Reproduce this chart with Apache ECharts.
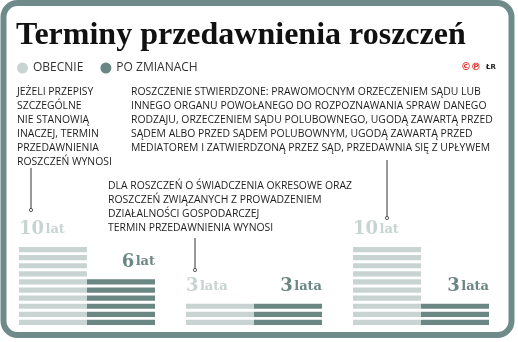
<!DOCTYPE html>
<html>
<head>
<meta charset="utf-8">
<script src="https://cdn.jsdelivr.net/npm/echarts@6/dist/echarts.min.js"></script>
<style>
  html, body { margin: 0; padding: 0; background: #fff; }
  #chart { width: 518px; height: 342px; }
</style>
</head>
<body>
<div id="chart"></div>
<script>
// dane
const categories = ['Termin ogólny', 'Świadczenia okresowe', 'Roszczenie stwierdzone'];
const obecnie = [10, 3, 10];
const poZmianach = [6, 3, 3];
const seriesNames = ['OBECNIE', 'PO ZMIANACH'];

const title = 'Terminy przedawnienia roszczeń';
const note1 = ['JEŻELI PRZEPISY', 'SZCZEGÓLNE', 'NIE STANOWIĄ', 'INACZEJ, TERMIN', 'PRZEDAWNIENIA', 'ROSZCZEŃ WYNOSI'];
const note2 = [
  'ROSZCZENIE STWIERDZONE: PRAWOMOCNYM ORZECZENIEM SĄDU LUB',
  'INNEGO ORGANU POWOŁANEGO DO ROZPOZNAWANIA SPRAW DANEGO',
  'RODZAJU, ORZECZENIEM SĄDU POLUBOWNEGO, UGODĄ ZAWARTĄ PRZED',
  'SĄDEM ALBO PRZED SĄDEM POLUBOWNYM, UGODĄ ZAWARTĄ PRZED',
  'MEDIATOREM I ZATWIERDZONĄ PRZEZ SĄD, PRZEDAWNIA SIĘ Z UPŁYWEM'
];
const note3 = [
  'DLA ROSZCZEŃ O ŚWIADCZENIA OKRESOWE ORAZ',
  'ROSZCZEŃ ZWIĄZANYCH Z PROWADZENIEM',
  'DZIAŁALNOŚCI GOSPODARCZEJ',
  'TERMIN PRZEDAWNIENIA WYNOSI'
];

const LIGHT = '#c7d4d1';
const DARK = '#6b8784';
const FRAME = '#6e8b89';
const SANS = '"Open Sans", "Noto Sans", sans-serif';
const SERIF = '"DejaVu Serif", serif';

function years(v) {
  return (v >= 2 && v <= 4) ? 'lata' : 'lat';
}

// paski: jeden pasek = jeden rok
function stripeSeries(name, values, color) {
  return {
    name: name,
    type: 'pictorialBar',
    barWidth: 68,
    barGap: 0,
    symbol: 'rect',
    symbolSize: [68, 5.2],
    symbolRepeat: true,
    symbolMargin: '1.45!',
    symbolPosition: 'start',
    itemStyle: { color: color },
    silent: true,
    data: values
  };
}

// niewidoczne słupki tylko dla etykiet
function labelSeries(values, color, isLeft) {
  return {
    name: 'label-' + color,
    type: 'bar',
    barWidth: 68,
    barGap: 0,
    silent: true,
    itemStyle: { color: 'rgba(0,0,0,0)' },
    label: {
      show: true,
      position: isLeft ? [0, -6] : ['100%', -6],
      align: isLeft ? 'left' : 'right',
      verticalAlign: 'bottom',
      formatter: p => '{n|' + p.value + '}{s| }{u|' + years(p.value) + '}',
      rich: {
        n: { fontFamily: SERIF, fontSize: 18, fontWeight: 'bold', color: color, lineHeight: 20 },
        s: { fontSize: 5, lineHeight: 20 },
        u: { fontFamily: SERIF, fontSize: 13, fontWeight: 'bold', color: color, lineHeight: 20 }
      }
    },
    data: values
  };
}

function noteText(lines, x, y, lh) {
  return {
    type: 'text', left: x, top: y,
    style: {
      text: lines.join('\n'),
      font: '10.4px ' + SANS,
      fill: '#1e1e1e',
      lineHeight: lh
    }
  };
}

function leader(x, y1, y2) {
  return [
    { type: 'line', shape: { x1: x, y1: y1, x2: x, y2: y2 }, style: { stroke: '#333', lineWidth: 1 } },
    { type: 'circle', shape: { cx: x, cy: y2, r: 1.6 }, style: { fill: '#fff', stroke: '#333', lineWidth: 0.8 } }
  ];
}

const chart = echarts.init(document.getElementById('chart'));
chart.setOption({
  animation: false,
  legend: {
    data: seriesNames,
    left: 17, top: 62, padding: 0,
    icon: 'circle', itemWidth: 11, itemHeight: 11, itemGap: 17,
    selectedMode: false,
    textStyle: { fontFamily: SANS, fontSize: 12, color: '#333' }
  },
  grid: { left: 3.5, right: 13.5, top: 164.5, bottom: 15.5 },
  xAxis: {
    type: 'category', data: categories,
    axisLine: { show: false }, axisTick: { show: false }, axisLabel: { show: false }
  },
  yAxis: {
    type: 'value', min: 0, max: 20,
    axisLine: { show: false }, axisTick: { show: false }, axisLabel: { show: false },
    splitLine: { show: false }
  },
  graphic: [
    { type: 'rect', shape: { x: 3.5, y: 3, width: 508, height: 332, r: 14 },
      style: { fill: 'none', stroke: FRAME, lineWidth: 6 } },
    { type: 'text', left: 16, top: 20,
      style: { text: title, font: 'bold 32px "Liberation Serif", serif', fill: '#111' } },
    { type: 'text', left: 461, top: 62,
      style: { text: '©℗', font: 'bold 10px "DejaVu Sans", sans-serif', fill: '#e2302a' } },
    { type: 'text', left: 486, top: 64,
      style: { text: 'ŁR', font: 'bold 7px "DejaVu Sans", sans-serif', fill: '#222' } },
    noteText(note1, 17, 85, 14),
    noteText(note2, 131, 85, 14),
    noteText(note3, 108, 179, 14),
    ...leader(31, 168, 210),
    ...leader(195, 238, 270),
    ...leader(387, 160, 218)
  ],
  series: [
    stripeSeries(seriesNames[0], obecnie, LIGHT),
    stripeSeries(seriesNames[1], poZmianach, DARK),
    labelSeries(obecnie, LIGHT, true),
    labelSeries(poZmianach, DARK, false)
  ]
});
</script>
</body>
</html>
